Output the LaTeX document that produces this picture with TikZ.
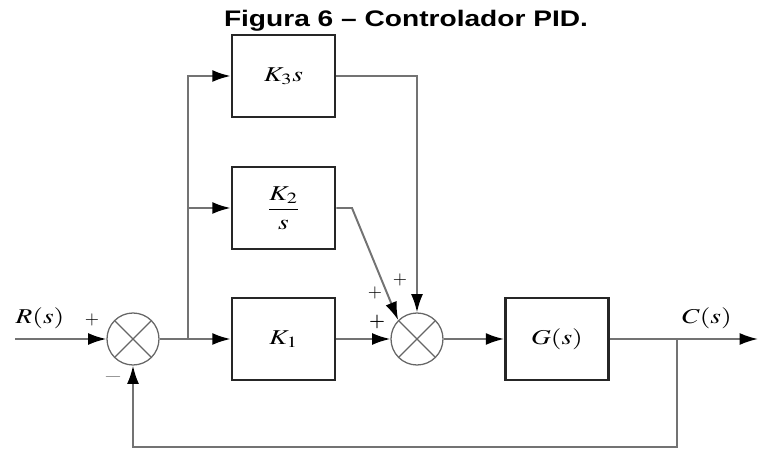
\documentclass[tikz,border=0pt]{standalone}
\usepackage{mathptmx}
\usepackage{fontspec}
\newfontfamily\titulo{Liberation Sans}
\usetikzlibrary{arrows.meta,positioning}

\newcommand{\largo}[1]{\scalebox{1.3}[1]{#1}}

\tikzset{
  linha/.style={black!55, line width=1.4pt},
  seta/.style={linha, -{Latex[black,length=13pt,width=8.5pt]}},
  bloco/.style={draw=black!85, line width=2pt, minimum width=2.575cm, minimum height=2.05cm},
  soma/.style={circle, draw=black!60, line width=0.9pt, minimum size=1.3cm, inner sep=0pt,
    path picture={
      \draw[black!60, line width=0.9pt] (path picture bounding box.north west) -- (path picture bounding box.south east);
      \draw[black!60, line width=0.9pt] (path picture bounding box.north east) -- (path picture bounding box.south west);
    }},
  sinal/.style={font=\fontsize{13}{15}\selectfont, inner sep=0pt}
}

\begin{document}
\begin{tikzpicture}[font=\fontsize{15}{17}\selectfont]
    \useasboundingbox (0,0) rectangle (18.95,11.25);
    %%%%%%%%%%%%%%%%%%%%%%%%%%%%%%%%%%%%%% Titulo
    \node[anchor=base] (tit) at (10.15,10.575) {\titulo\bfseries\fontsize{16}{18}\selectfont\scalebox{1.25}[1]{Figura 6 – Controlador PID.}};

    %%%%%%%%%%%%%%%%%%%%%%%%%%%%%%%%%%%%%% Blocos
    \node[soma] (s1) at (3.325,2.775) {};
    \node[bloco] (k1) at (7.0875,2.775) {\largo{$K_1$}};
    \node[bloco] (k2) at (7.0875,6.05) {\largo{$\displaystyle\frac{K_2}{s}$}};
    \node[bloco] (k3) at (7.0875,9.35) {\largo{$K_3s$}};
    \node[soma] (s2) at (10.425,2.775) {};
    \node[bloco] (g) at (13.925,2.775) {\largo{$G(s)$}};

    \coordinate (ent) at (0.375,2.775);
    \coordinate (sai) at (18.95,2.775);
    \coordinate (ram) at (4.7,2.775);
    \coordinate (ramc) at (16.925,2.775);
    \coordinate (base) at (16.925,0.075);
    \coordinate (dobra) at (8.8,6.05);

    %%%%%%%%%%%%%%%%%%%%%%%%%%%%%%%%%%%%%% Ligacoes
    \draw[seta] (ent) -- (s1);
    \draw[seta] (s1) -- (k1);
    \draw[seta] (ram) |- (k3);
    \draw[seta] (ram |- k2) -- (k2);
    \draw[seta] (k1) -- (s2);
    \draw[seta] (k3) -| (s2);
    \draw[seta] (k2) -- (dobra) -- (s2.135);
    \draw[seta] (s2) -- (g);
    \draw[seta] (g) -- (sai);
    \draw[seta] (ramc) -- (base) -| (s1);

    %%%%%%%%%%%%%%%%%%%%%%%%%%%%%%%%%%%%%% Rotulos
    \node (r) at (1.0,3.3) {\largo{$R(s)$}};
    \node (c) at (17.675,3.3) {\largo{$C(s)$}};
    \node[sinal] (p1) at (2.3,3.25) {$+$};
    \node[sinal, black!55] (m1) at (2.825,1.825) {\largo{$-$}};
    \node[sinal] (p2) at (9.375,3.925) {$+$};
    \node[sinal] (p3) at (10.0,4.25) {$+$};
    \node[sinal] (p4) at (9.425,3.2) {\textbf{+}};
\end{tikzpicture}
\end{document}
